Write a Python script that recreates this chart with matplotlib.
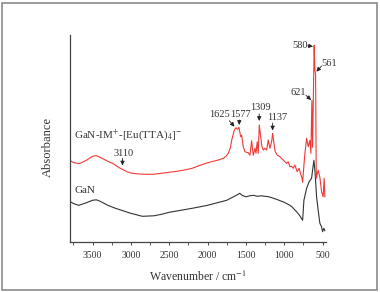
import matplotlib
matplotlib.use("Agg")
import matplotlib.pyplot as plt
from matplotlib.patches import Rectangle
from matplotlib.ticker import MultipleLocator

plt.rcParams['font.family'] = ['Liberation Serif', 'DejaVu Serif']
plt.rcParams['mathtext.fontset'] = 'stix'

# ---- data (wavenumber in cm^-1, absorbance in arbitrary units) ----
red_wn = [3800, 3740, 3670, 3580, 3500, 3450, 3400, 3300, 3230, 3150, 3110, 3050, 3000,
          2900, 2800, 2715, 2600, 2500, 2400, 2320, 2200, 2100, 2000, 1925, 1850, 1794,
          1760, 1729, 1700, 1685, 1665, 1651, 1629, 1607, 1590, 1568, 1555, 1534, 1512,
          1490, 1469, 1447, 1425, 1404, 1381, 1368, 1352, 1339, 1325, 1307, 1290, 1273,
          1251, 1229, 1208, 1186, 1164, 1151, 1134, 1117, 1091, 1056, 1013, 969, 948,
          926, 905, 883, 861, 831, 805, 785, 770, 760, 745, 730, 708, 687, 665, 652,
          639, 630, 609, 600, 591, 582, 557, 535, 513, 492, 479, 470]
red_abs = [82, 79.5, 78.7, 82, 86, 86.7, 85, 81, 78.7, 74.5, 73, 70.5, 69.3,
           68.3, 68, 68, 69, 70, 71, 72, 74, 77, 79.5, 81, 82.5, 84,
           86, 89, 95, 102, 108, 112, 114.6, 113, 115, 105.6, 107, 95.6, 90.6,
           90, 89.6, 87, 101.6, 87, 94, 89, 100.6, 89, 117.3, 105.6, 95.6, 92.3,
           94, 92.3, 102.3, 94, 100.6, 109, 99, 90.6, 87.3, 85.6, 82.3, 79, 80.6,
           75.6, 76, 74, 77.3, 70.6, 74, 68, 65, 60, 75, 89, 104, 95.6, 102, 89,
           142, 95, 197, 172, 168, 64, 72, 65, 50.6, 45.6, 64, 45.6]

black_wn = [3800, 3740, 3680, 3600, 3500, 3450, 3400, 3300, 3200, 3100, 3000, 2900, 2850,
            2700, 2600, 2500, 2350, 2200, 2000, 1850, 1750, 1650, 1600, 1580, 1550, 1500,
            1450, 1400, 1350, 1300, 1200, 1100, 1000, 926, 900, 839, 800, 760, 743, 708,
            675, 643, 630, 613, 600, 590, 578, 557, 535, 513, 500, 483, 470]
black_abs = [41, 38.5, 37, 39, 42, 42.5, 41, 37, 34, 31.5, 29, 27, 26,
             26.5, 28, 30, 32, 34, 37, 40, 42, 46, 48, 49, 47, 45.5,
             46.5, 47, 46, 46.5, 45.5, 43, 40, 37, 35.5, 30.6, 27, 22, 42, 54,
             60.6, 64, 72, 82, 72, 60.6, 45.6, 32, 19, 15.6, 10.6, 14, 11.6]

x_ticks = [3500, 3000, 2500, 2000, 1500, 1000, 500]
x_tick_labels = ['3500', '3000', '2500', '2000', '1500', '1000', '500']

# peak annotations: label, text position (wn, abs), arrow tail, arrow head
peak_labels = ['3110', '1625', '1577', '1309', '1137', '621', '580', '561']
peak_text = [(3091, 89), (1846, 127.8), (1577, 127.8), (1316, 134.3), (1095, 124.8),
             (818, 149.6), (796, 196.6), (414, 179)]
peak_tail = [(3109, 84), (1716, 121.6), (1586, 122.3), (1326, 128.3), (1151, 119.3),
             (717, 147), (695, 196.6), (513, 176.3)]
peak_head = [(3109, 76.8), (1648, 115.6), (1586, 117.3), (1326, 121.3), (1151, 111.8),
             (648, 142.3), (624, 195.8), (581, 170.6)]

series_labels = ['GaN-IM$^{+}$-[Eu(TTA)$_{4}$]$^{-}$', 'GaN']
series_label_pos = [(3738, 107.3), (3738, 51.6)]

red = '#ee3a36'
black = '#333333'
txt = '#333333'

W, H = 380, 292
fig = plt.figure(figsize=(W / 100, H / 100), dpi=100)
ax = fig.add_axes([69.5 / W, 49.7 / H, (326 - 69.5) / W, 207.3 / H])

ax.plot(black_wn, black_abs, color=black, lw=0.8)
ax.plot(red_wn, red_abs, color=red, lw=0.8)

ax.set_xlim(3800, 455)
ax.set_ylim(0, 207.3)

for s in ['top', 'right']:
    ax.spines[s].set_visible(False)
for s in ['left', 'bottom']:
    ax.spines[s].set_color('#444444')
    ax.spines[s].set_linewidth(0.9)

ax.set_yticks([])
ax.set_xticks(x_ticks)
ax.set_xticklabels(x_tick_labels)
ax.xaxis.set_minor_locator(MultipleLocator(250))
ax.tick_params(axis='x', which='major', direction='out', length=2.5, width=0.7,
               colors='#444444', labelsize=7, pad=3.5, labelcolor=txt)
ax.tick_params(axis='x', which='minor', direction='out', length=1.8, width=0.6,
               colors='#444444')

for lab, tp, tl, hd in zip(peak_labels, peak_text, peak_tail, peak_head):
    ax.text(tp[0], tp[1], lab, ha='center', va='center', fontsize=7.5, color=txt,
            clip_on=False)
    ax.annotate('', xy=hd, xytext=tl,
                arrowprops=dict(arrowstyle='-|>,head_length=0.25,head_width=0.12',
                                color='#222222', lw=0.6, shrinkA=0, shrinkB=0),
                annotation_clip=False)

for lab, pos in zip(series_labels, series_label_pos):
    ax.text(pos[0], pos[1], lab, ha='left', va='center', fontsize=8, color=txt)

fig.text(198 / W, 1 - 276.7 / H, 'Wavenumber / cm$^{-1}$', ha='center', va='center',
         fontsize=8.5, color=txt)
fig.text(47.5 / W, 1 - 147 / H, 'Absorbance', ha='center', va='center',
         rotation=90, fontsize=9, color=txt)

fig.patches.append(Rectangle((1.5 / W, 2.5 / H), (377 - 1.5) / W, (289.5 - 2.5) / H,
                             transform=fig.transFigure, fill=False,
                             edgecolor='#8a8a8a', lw=1.2))

fig.savefig('out.png', dpi=100)
